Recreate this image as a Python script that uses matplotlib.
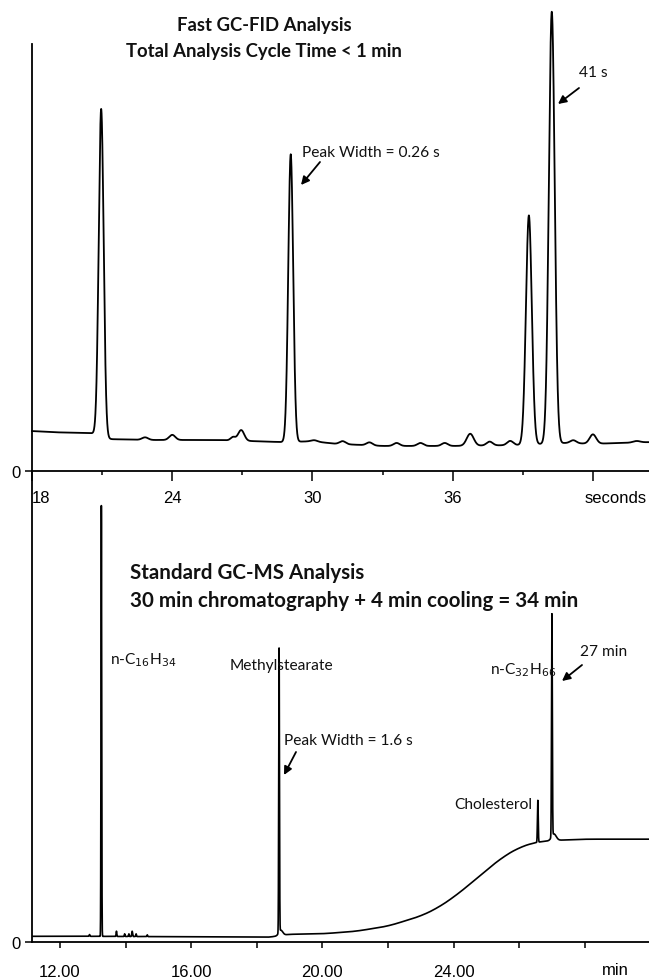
import numpy as np
import matplotlib
matplotlib.use("Agg")
import matplotlib.pyplot as plt

# ---------------- data: Fast GC-FID (seconds) ----------------
fid_peak_time = [20.96, 22.84, 24.00, 26.60, 26.95, 29.07, 30.08, 31.29, 32.44, 33.60,
                 34.62, 35.66, 36.75, 37.58, 38.46, 39.26, 40.24, 41.16, 42.00, 43.87]
fid_peak_height = [76.7, 0.6, 1.2, 0.8, 2.5, 67.4, 0.3, 0.7, 0.7, 0.7,
                   0.7, 0.7, 2.8, 0.9, 1.0, 53.7, 101.2, 0.7, 2.2, 0.35]
fid_peak_sigma = [0.105, 0.13, 0.13, 0.10, 0.13, 0.105, 0.13, 0.13, 0.13, 0.13,
                  0.13, 0.13, 0.15, 0.13, 0.13, 0.125, 0.125, 0.13, 0.14, 0.15]
fid_base_time = [18.0, 19.0, 20.6, 21.3, 23.0, 26.0, 28.7, 30.0, 31.0, 33.0, 36.0, 38.7, 40.8, 42.0, 44.4]
fid_base_level = [9.3, 9.0, 8.8, 7.4, 7.2, 7.2, 6.7, 6.9, 6.3, 5.8, 5.8, 6.0, 6.5, 6.3, 6.7]
fid_xticks = [18, 24, 30, 36, 42]
fid_xticklabels = ["18", "24", "30", "36", ""]
fid_minor = [21, 27, 33, 39]

# ---------------- data: Standard GC-MS (minutes) ----------------
ms_peak_time = [12.90, 13.26, 13.72, 13.97, 14.10, 14.20, 14.32, 14.66,
                18.68, 18.73, 26.57, 27.00, 27.06]
ms_peak_height = [0.4, 98.6, 1.2, 0.6, 0.6, 1.2, 0.6, 0.4,
                  65.0, 1.2, 9.6, 50.9, 1.5]
ms_peak_sigma = [0.012, 0.010, 0.010, 0.010, 0.010, 0.012, 0.010, 0.010,
                 0.011, 0.06, 0.012, 0.012, 0.07]
ms_base_time = [11.13, 13.0, 16.0, 18.5, 18.8, 20.0, 21.0, 22.0, 23.0, 23.5, 24.0,
                24.5, 25.0, 25.5, 26.0, 26.5, 27.0, 28.0, 29.96]
ms_base_level = [1.37, 1.37, 1.26, 1.14, 1.8, 1.95, 2.5, 3.7, 6.0, 7.8, 10.3,
                 13.3, 16.5, 19.5, 21.7, 22.9, 23.3, 23.6, 23.6]
ms_xticks = [12, 14, 16, 18, 20, 22, 24, 26, 28]
ms_xticklabels = ["12.00", "", "16.00", "", "20.00", "", "24.00", "", ""]


def smooth(v, n):
    if n < 2:
        return v
    pad = np.concatenate([np.full(n, v[0]), v, np.full(n, v[-1])])
    k = np.ones(n) / n
    return np.convolve(pad, k, mode="same")[n:-n]


def trace(t, bt, bl, pt, ph, ps, win):
    step = t[1] - t[0]
    y = smooth(np.interp(t, bt, bl), int(win / step))
    for c, h, s in zip(pt, ph, ps):
        y = y + h * np.exp(-0.5 * ((t - c) / s) ** 2)
    return y


W, H = 649, 978
fig = plt.figure(figsize=(W / 100, H / 100), dpi=100)
fig.patch.set_facecolor("white")

LABF = ["Liberation Sans", "DejaVu Sans"]
LAB = dict(family=LABF, size=12)
ANN = ["Lato", "DejaVu Sans"]


def fx(x):
    return x / W


def fy(y):
    return 1 - y / H


# ---- top axes ----
x0 = 32
top_zero = 471.7
top_topy = 8
ax1 = fig.add_axes([fx(x0), fy(top_zero), 1 - fx(x0), (top_zero - top_topy) / H])
t1 = np.linspace(18, 44.4, 8000)
y1 = trace(t1, fid_base_time, fid_base_level, fid_peak_time, fid_peak_height, fid_peak_sigma, 0.35)
ax1.plot(t1, y1, color="black", lw=1.3, clip_on=False)
ax1.set_xlim(18, 44.4)
ax1.set_ylim(0, (top_zero - top_topy) / 4.267)
for s in ["top", "right"]:
    ax1.spines[s].set_visible(False)
ax1.spines["left"].set_bounds(0, (top_zero - 45) / 4.267)
ax1.spines["left"].set_linewidth(1.3)
ax1.spines["bottom"].set_linewidth(1.3)
ax1.set_xticks(fid_xticks)
ax1.set_xticklabels(fid_xticklabels)
ax1.set_xticks(fid_minor, minor=True)
ax1.tick_params(axis="x", which="major", length=7.2, width=1.1, pad=7, labelsize=12)
ax1.tick_params(axis="x", which="minor", length=3.2, width=1.1)
for lab in ax1.get_xticklabels():
    lab.set_family(LABF)
ax1.get_xticklabels()[0].set_ha("left")
ax1.set_yticks([0])
ax1.set_yticklabels(["0"])
ax1.tick_params(axis="y", length=5, width=1.1, pad=3, labelsize=12)
for lab in ax1.get_yticklabels():
    lab.set_family(LABF)
ax1.patch.set_alpha(0)
fig.text(fx(585), fy(499), "seconds", ha="left", va="center", **LAB)

# ---- bottom axes ----
bot_zero = 943.3
bot_topy = 473
ax2 = fig.add_axes([fx(31.5), fy(bot_zero), 1 - fx(31.5), (bot_zero - bot_topy) / H])
t2 = np.linspace(11.13, 29.96, 30000)
y2 = trace(t2, ms_base_time, ms_base_level, ms_peak_time, ms_peak_height, ms_peak_sigma, 0.6)
ax2.plot(t2, y2, color="black", lw=1.2)
ax2.set_xlim(11.13, 29.96)
ax2.set_ylim(0, (bot_zero - bot_topy) / 4.37)
for s in ["top", "right"]:
    ax2.spines[s].set_visible(False)
ax2.spines["left"].set_linewidth(1.3)
ax2.spines["bottom"].set_linewidth(1.3)
ax2.set_xticks(ms_xticks)
ax2.set_xticklabels(ms_xticklabels)
ax2.tick_params(axis="x", length=4.3, width=1.1, pad=11, labelsize=12)
for lab in ax2.get_xticklabels():
    lab.set_family(LABF)
ax2.set_yticks([0])
ax2.set_yticklabels(["0"])
ax2.tick_params(axis="y", length=5, width=1.1, pad=3, labelsize=12)
for lab in ax2.get_yticklabels():
    lab.set_family(LABF)
ax2.patch.set_alpha(0)
fig.text(fx(615), fy(971), "min", ha="center", va="center", **LAB)

# ---- texts ----
TT = dict(family=ANN, size=13.3, weight="bold", color="#111111")
TB = dict(family=ANN, size=14.8, weight="bold", color="#111111")
fig.text(fx(264), fy(25), "Fast GC-FID Analysis", ha="center", va="center", **TT)
fig.text(fx(264), fy(51), "Total Analysis Cycle Time < 1 min", ha="center", va="center", **TT)
fig.text(fx(130), fy(573), "Standard GC-MS Analysis", ha="left", va="center", **TB)
fig.text(fx(130), fy(601), "30 min chromatography + 4 min cooling = 34 min", ha="left", va="center", **TB)

TN = dict(family=ANN, size=11.2, color="#111111")
fig.text(fx(302), fy(153), "Peak Width = 0.26 s", ha="left", va="center", **TN)
fig.text(fx(579), fy(73), "41 s", ha="left", va="center", **TN)
fig.text(fx(281), fy(666), "Methylstearate", ha="center", va="center", **TN)
fig.text(fx(110), fy(660), r"n-C$_{16}$H$_{34}$", ha="left", va="center", **TN)
fig.text(fx(284), fy(741), "Peak Width = 1.6 s", ha="left", va="center", **TN)
fig.text(fx(454), fy(805), "Cholesterol", ha="left", va="center", **TN)
fig.text(fx(490), fy(670), r"n-C$_{32}$H$_{66}$", ha="left", va="center", **TN)
fig.text(fx(580), fy(652), "27 min", ha="left", va="center", **TN)


def arrow(x_from, y_from, x_to, y_to):
    fig.add_artist(matplotlib.patches.FancyArrowPatch(
        (fx(x_from), fy(y_from)), (fx(x_to), fy(y_to)), transform=fig.transFigure,
        arrowstyle="-|>", mutation_scale=12, lw=1.3, color="black",
        shrinkA=0, shrinkB=0))


arrow(320, 163, 301, 186)
arrow(579, 89, 558, 105)
arrow(296, 753, 284, 776)
arrow(582, 666, 562, 682)

fig.savefig("out.png", dpi=100, facecolor="white")
